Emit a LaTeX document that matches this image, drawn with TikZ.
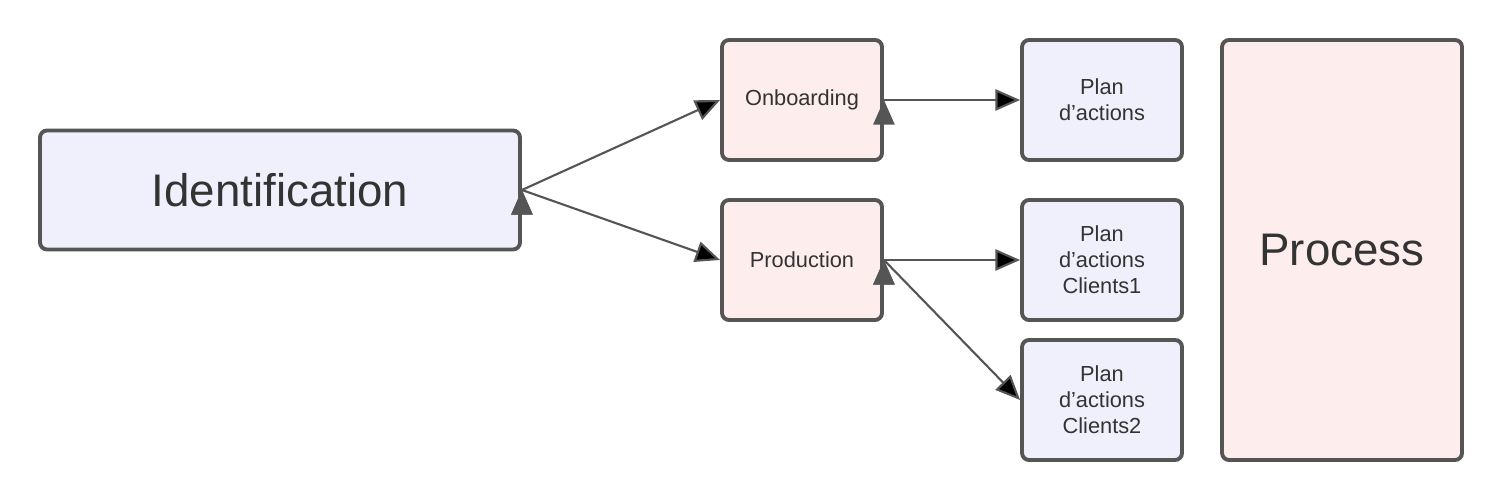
\documentclass[tikz,border=0pt]{standalone}
\usepackage{fontspec}
\setmainfont{Liberation Sans}
\usetikzlibrary{positioning}
\usetikzlibrary{arrows.meta}
\definecolor{boxblue}{HTML}{EFF0FC}
\definecolor{boxpink}{HTML}{FDEDEC}
\definecolor{edgegray}{HTML}{555555}
\definecolor{textgray}{HTML}{333333}
\begin{document}
\begin{tikzpicture}[-{Triangle[length=7pt,width=6pt]}, line width=0.6pt,
    box/.style={draw=edgegray, rounded corners=2pt, line width=1.1pt, text=textgray,
        align=center, font=\fontsize{6.2}{7.4}\selectfont},
    stage/.style={box, minimum width=1.6cm, minimum height=1.2cm}]
        \useasboundingbox (0,0) rectangle (15.02,5);
        \node [box, fill=boxblue, minimum width=4.8cm, minimum height=1.19cm,
            font=\fontsize{13}{15}\selectfont] (ident) at (2.8,3.1) {Identification};
        \node [stage, fill=boxpink] (onb) at (8.02,4) {Onboarding};
        \node [stage, fill=boxpink] (prod) at (8.02,2.4) {Production};
        \node [stage, fill=boxblue] (plan) at (11.02,4) {Plan\\d'actions};
        \node [stage, fill=boxblue] (c1) at (11.02,2.4) {Plan\\d'actions\\Clients1};
        \node [stage, fill=boxblue] (c2) at (11.02,1) {Plan\\d'actions\\Clients2};
        \node [box, fill=boxpink, minimum width=2.4cm, minimum height=4.2cm,
            font=\fontsize{13}{15}\selectfont] (proc) at (13.42,2.5) {Process};

        \path [draw=edgegray] (ident.east) edge (onb.west);
        \path [draw=edgegray] (ident.east) edge (prod.west);
        \path [draw=edgegray] (onb.east) edge (plan.west);
        \path [draw=edgegray] (prod.east) edge (c1.west);
        \path [draw=edgegray] (prod.east) edge (c2.west);
    \end{tikzpicture}
\end{document}
